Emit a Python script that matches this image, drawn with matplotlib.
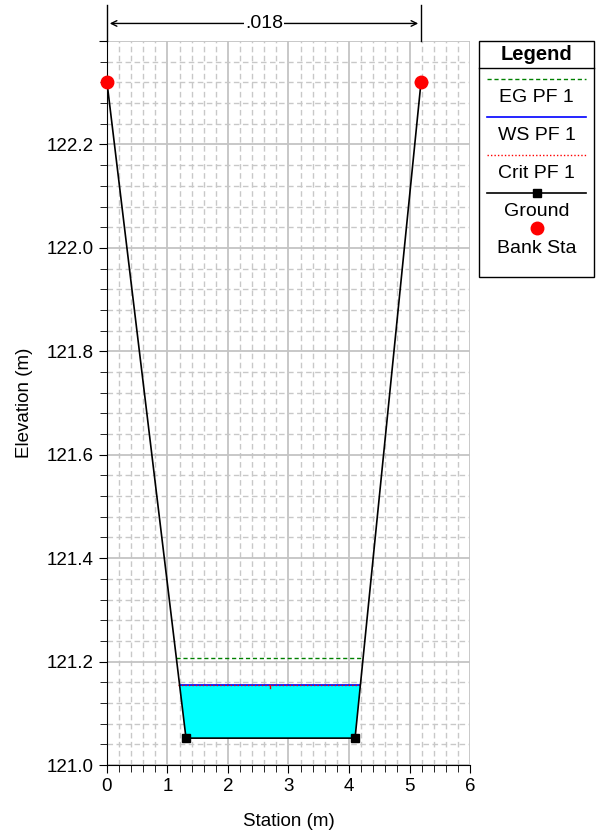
import matplotlib.pyplot as plt
import numpy as np
from matplotlib.ticker import MultipleLocator, FuncFormatter
from matplotlib.lines import Line2D

plt.rcParams["font.family"] = ["Liberation Sans", "DejaVu Sans"]

# Cross-section data
ground_sta = [0.0, 1.306, 4.10, 5.19]
ground_elev = [122.32, 121.052, 121.052, 122.32]
bank_sta = [0.0, 5.19]
bank_elev = [122.32, 122.32]
ws_elev = 121.155
crit_elev = 121.155
eg_elev = 121.207
mann_n = ".018"

legend_labels = ["EG PF 1", "WS PF 1", "Crit PF 1", "Ground", "Bank Sta"]


def wet_limits(elev):
    # left/right intersection of a level with the ground line
    left = np.interp(elev, ground_elev[1::-1], ground_sta[1::-1])
    right = np.interp(elev, ground_elev[2:], ground_sta[2:])
    return left, right


fig = plt.figure(figsize=(5.96, 8.34), dpi=100)
ax = fig.add_axes([0.1795, 0.0827, 0.6091, 0.8681])

# water fill
wl, wr = wet_limits(ws_elev)
xs = [wl, ground_sta[1], ground_sta[2], wr]
ys = [ws_elev, ground_elev[1], ground_elev[2], ws_elev]
ax.fill(xs, ys, color="#00ffff", zorder=2, lw=0)

el, er = wet_limits(eg_elev)
ax.plot([el, er], [eg_elev, eg_elev], color="#008000", ls=(0, (3, 2)), lw=1, zorder=3)
ax.plot([wl, wr], [ws_elev, ws_elev], color="blue", lw=1.2, zorder=3)
cl, cr = wet_limits(crit_elev)
ax.plot([cl - 0.03, cr + 0.03], [crit_elev, crit_elev], color="red", ls=(0, (1, 1.5)), lw=1, zorder=4)
ax.plot([(cl + cr) / 2] * 2, [crit_elev, crit_elev - 0.006], color="red", lw=1, zorder=4)

ax.plot(ground_sta, ground_elev, color="black", lw=1.2, zorder=5)
ax.plot(ground_sta[1:3], ground_elev[1:3], ls="none", marker="s", ms=6, color="black", zorder=6)
ax.plot(bank_sta, bank_elev, ls="none", marker="o", ms=9, color="red", zorder=7, clip_on=False)

ax.set_xlim(0, 6)
ax.set_ylim(121.0, 122.4)
ax.xaxis.set_major_locator(MultipleLocator(1))
ax.xaxis.set_minor_locator(MultipleLocator(0.2))
ax.yaxis.set_major_locator(MultipleLocator(0.2))
ax.yaxis.set_minor_locator(MultipleLocator(0.04))
ax.yaxis.set_major_formatter(FuncFormatter(lambda v, p: "" if v > 122.3 else f"{v:.1f}"))
ax.grid(which="major", color="#c4c4c4", lw=1.3, zorder=0)
ax.grid(which="minor", color="#c8c8c8", lw=1, ls=(0, (4, 2.5)), zorder=0)
ax.set_axisbelow(True)
for s in ["top", "right"]:
    ax.spines[s].set_visible(False)
ax.tick_params(which="major", direction="out", length=6, labelsize=13.5)
ax.tick_params(which="minor", direction="out", length=5)
ax.set_xlabel("Station (m)", fontsize=13.5, labelpad=13)
ax.set_ylabel("Elevation (m)", fontsize=13.5, labelpad=10)

# Manning's n dimension line above the plot
ax.plot([0, 0], [122.4, 122.47], color="black", lw=1, clip_on=False)
ax.plot([bank_sta[1]] * 2, [122.4, 122.47], color="black", lw=1, clip_on=False)
ax.annotate("", xy=(0, 122.434), xytext=(bank_sta[1], 122.434),
            arrowprops=dict(arrowstyle="<->", color="black", lw=1), annotation_clip=False)
ax.text(bank_sta[1] / 2, 122.434, mann_n, ha="center", va="center", fontsize=14,
        bbox=dict(facecolor="white", edgecolor="none", pad=1), clip_on=False)

# Legend box (drawn in figure coordinates)
W, H = 596, 834
x0, x1, ytop, ybot = 479, 594, 41, 277
fig.patches.append(plt.Rectangle((x0 / W, 1 - ybot / H), (x1 - x0) / W, (ybot - ytop) / H,
                                 transform=fig.transFigure, fill=False, ec="black", lw=1))
fig.lines.append(Line2D([x0 / W, x1 / W], [1 - 68 / H] * 2, transform=fig.transFigure, color="black", lw=1))
fig.text((x0 + x1) / 2 / W, 1 - 54 / H, "Legend", ha="center", va="center", fontsize=14.5, fontweight="bold")
xm = (x0 + x1) / 2 / W
lx = [(x0 + 8) / W, (x1 - 8) / W]
samples = [
    dict(color="#008000", ls=(0, (3, 2)), lw=1),
    dict(color="blue", lw=1.2),
    dict(color="red", ls=(0, (1, 1.5)), lw=1),
    dict(color="black", lw=1.2),
]
for i, lab in enumerate(legend_labels):
    ys_ = 79 + i * 38
    if i < 4:
        fig.lines.append(Line2D(lx, [1 - ys_ / H] * 2, transform=fig.transFigure, **samples[i]))
    if i == 3:
        fig.lines.append(Line2D([xm], [1 - ys_ / H], transform=fig.transFigure, marker="s", ms=6, color="black"))
    if i == 4:
        fig.lines.append(Line2D([xm], [1 - (ys_ - 3) / H], transform=fig.transFigure, marker="o", ms=9, color="red"))
    fig.text(xm, 1 - (ys_ + 18) / H, lab, ha="center", va="center", fontsize=14)

fig.savefig("out.png", dpi=100)
